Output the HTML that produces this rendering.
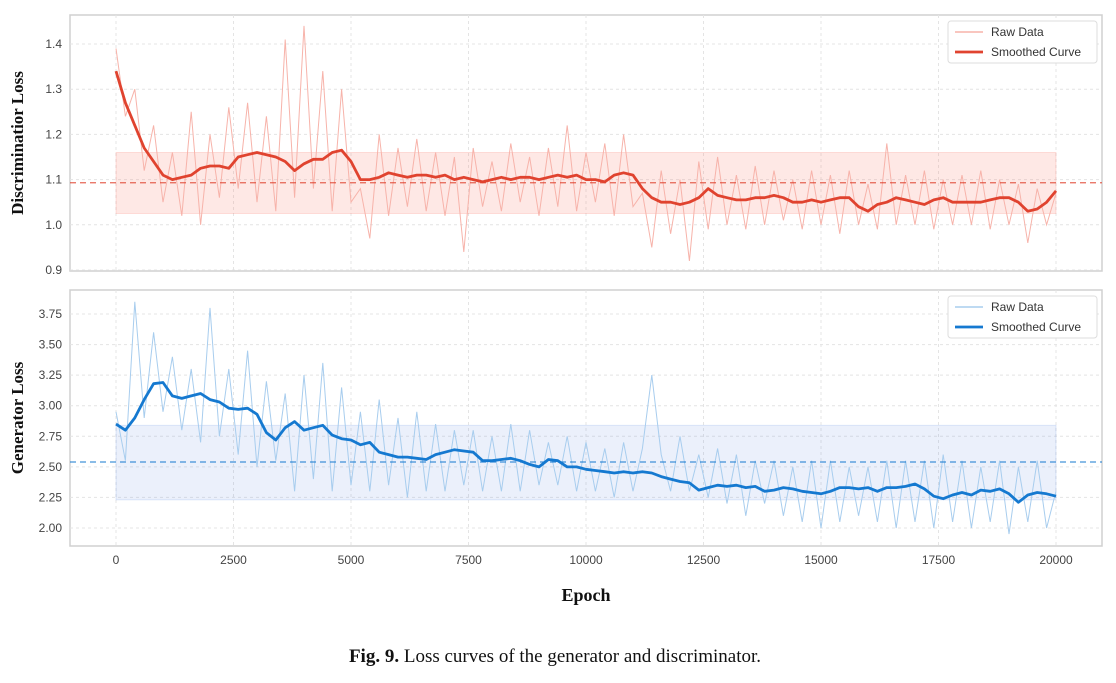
<!DOCTYPE html>
<html><head><meta charset="utf-8">
<style>
body{margin:0;background:#fff;width:1116px;height:678px;overflow:hidden;font-family:"Liberation Sans",sans-serif}
svg text{font-family:"Liberation Sans",sans-serif}
</style></head>
<body>
<svg id="chart" width="1116" height="678" xmlns="http://www.w3.org/2000/svg"></svg>
<script>
const epochMax = 20000;
const xTicks = [0,2500,5000,7500,10000,12500,15000,17500,20000];
const dTicks = [0.9,1.0,1.1,1.2,1.3,1.4];
const gTicks = [2.00,2.25,2.50,2.75,3.00,3.25,3.50,3.75];
const dSmooth = [1.34,1.27,1.22,1.17,1.14,1.11,1.10,1.105,1.11,1.125,1.13,1.13,1.125,1.15,1.155,1.16,1.155,1.15,1.14,1.12,1.135,1.145,1.145,1.16,1.165,1.14,1.10,1.10,1.105,1.115,1.11,1.105,1.11,1.11,1.105,1.11,1.10,1.105,1.10,1.095,1.10,1.105,1.10,1.105,1.105,1.10,1.105,1.11,1.105,1.11,1.10,1.10,1.095,1.11,1.115,1.11,1.08,1.06,1.05,1.05,1.045,1.05,1.06,1.08,1.065,1.06,1.055,1.055,1.06,1.06,1.065,1.06,1.05,1.05,1.055,1.05,1.055,1.06,1.06,1.04,1.03,1.045,1.05,1.06,1.055,1.05,1.045,1.055,1.06,1.05,1.05,1.05,1.05,1.055,1.06,1.06,1.05,1.03,1.035,1.05,1.075];
const dRaw = [1.39,1.24,1.30,1.12,1.22,1.05,1.16,1.02,1.25,1.00,1.20,1.06,1.26,1.08,1.27,1.05,1.24,1.03,1.41,1.06,1.44,1.08,1.34,1.03,1.30,1.05,1.08,0.97,1.20,1.02,1.17,1.04,1.19,1.03,1.16,1.02,1.15,0.94,1.17,1.04,1.14,1.03,1.18,1.05,1.15,1.02,1.17,1.04,1.22,1.03,1.16,1.05,1.18,1.02,1.20,1.04,1.07,0.95,1.12,0.98,1.10,0.92,1.14,0.99,1.15,1.00,1.11,0.99,1.13,1.00,1.12,1.01,1.10,0.99,1.12,1.00,1.11,0.98,1.12,1.00,1.09,0.99,1.18,1.00,1.11,1.00,1.12,0.99,1.10,1.00,1.11,1.00,1.12,0.99,1.10,1.00,1.09,0.96,1.08,1.00,1.07];
const dBand = [1.025,1.16];
const dMean = 1.093;
const gSmooth = [2.85,2.80,2.90,3.05,3.18,3.19,3.08,3.06,3.08,3.10,3.05,3.03,2.98,2.97,2.98,2.93,2.78,2.72,2.82,2.87,2.80,2.82,2.84,2.76,2.73,2.72,2.68,2.70,2.62,2.60,2.58,2.58,2.57,2.56,2.60,2.62,2.64,2.63,2.62,2.55,2.55,2.56,2.57,2.55,2.52,2.50,2.56,2.55,2.50,2.50,2.48,2.47,2.46,2.45,2.46,2.45,2.46,2.45,2.42,2.40,2.38,2.37,2.31,2.33,2.35,2.34,2.35,2.33,2.34,2.30,2.31,2.33,2.32,2.30,2.29,2.28,2.30,2.33,2.33,2.32,2.33,2.30,2.33,2.33,2.34,2.36,2.32,2.26,2.24,2.27,2.29,2.27,2.31,2.30,2.32,2.28,2.21,2.27,2.29,2.28,2.26];
const gRaw = [2.95,2.55,3.85,2.90,3.60,2.95,3.40,2.80,3.30,2.70,3.80,2.75,3.30,2.60,3.45,2.50,3.20,2.55,3.10,2.30,3.25,2.40,3.35,2.30,3.15,2.35,2.95,2.30,3.05,2.35,2.90,2.25,2.95,2.30,2.85,2.30,2.80,2.35,2.80,2.30,2.75,2.30,2.85,2.30,2.80,2.35,2.70,2.35,2.75,2.30,2.70,2.30,2.65,2.25,2.70,2.30,2.65,3.25,2.60,2.30,2.75,2.30,2.60,2.25,2.65,2.20,2.60,2.10,2.55,2.20,2.55,2.10,2.50,2.05,2.55,2.00,2.55,2.05,2.50,2.10,2.50,2.05,2.55,2.00,2.55,2.05,2.55,2.00,2.60,2.05,2.55,2.00,2.50,2.05,2.55,1.95,2.50,2.05,2.55,2.00,2.30];
const gBand = [2.23,2.84];
const gMean = 2.54;

const NS="http://www.w3.org/2000/svg";
const svg=document.getElementById('chart');
function mk(tag,attrs,parent){const e=document.createElementNS(NS,tag);for(const k in attrs)e.setAttribute(k,attrs[k]);(parent||svg).appendChild(e);return e;}
const xS=v=>116+v/epochMax*940;
function panel(cfg){
  const yS=v=>cfg.y0px+(v-cfg.v0)/(cfg.v1-cfg.v0)*(cfg.y1px-cfg.y0px);
  const g=mk('g',{});
  
  
  const fr=mk('rect',{x:70,y:cfg.top,width:1032,height:cfg.bot-cfg.top,fill:'#fff',stroke:'#d0d0d0','stroke-width':1.5},g);
  
  
  xTicks.forEach(t=>{const l=mk('line',{x1:xS(t),x2:xS(t),y1:cfg.top,y2:cfg.bot,stroke:'#e4e4e4','stroke-dasharray':'3,3'},g);
    
    });
  cfg.ticks.forEach(t=>{const y=yS(t);
    const l=mk('line',{x1:70,x2:1102,y1:y,y2:y,stroke:'#e4e4e4','stroke-dasharray':'3,3'},g);
    
    
    const tx=mk('text',{x:62,y:y+4,'text-anchor':'end','font-size':12,fill:'#444'},g);tx.textContent=cfg.fmt(t);
    
    });
  const band=mk('rect',{x:xS(0),width:xS(epochMax)-xS(0),y:yS(cfg.band[1]),height:yS(cfg.band[0])-yS(cfg.band[1]),fill:cfg.bandFill,stroke:cfg.bandStroke,'stroke-width':0.8},g);
  
  
  const n=cfg.raw.length;
  const rp=cfg.raw.map((v,i)=>xS(i*epochMax/(n-1)).toFixed(1)+','+yS(v).toFixed(1)).join(' ');
  const raw=mk('polyline',{points:rp,fill:'none',stroke:cfg.rawCol,'stroke-width':1},g);
  
  
  const mean=mk('line',{x1:70,x2:1102,y1:yS(cfg.mean),y2:yS(cfg.mean),stroke:cfg.col,'stroke-width':1.3,'stroke-dasharray':'6,4',opacity:0.8},g);
  
  
  const m=cfg.smooth.length;
  const sp=cfg.smooth.map((v,i)=>xS(i*epochMax/(m-1)).toFixed(1)+','+yS(v).toFixed(1)).join(' ');
  const sm=mk('polyline',{points:sp,fill:'none',stroke:cfg.col,'stroke-width':2.8,'stroke-linejoin':'round'},g);
  
  
  const lg=mk('g',{},g);
  
  
  mk('rect',{x:948,y:cfg.top+6,width:149,height:42,rx:3,fill:'#fff',stroke:'#ddd'},lg);
  mk('line',{x1:955,x2:983,y1:cfg.top+17,y2:cfg.top+17,stroke:cfg.rawCol,'stroke-width':1.5},lg);
  const t1=mk('text',{x:991,y:cfg.top+21,'font-size':12,fill:'#333'},lg);t1.textContent='Raw Data';
  
  
  mk('line',{x1:955,x2:983,y1:cfg.top+37,y2:cfg.top+37,stroke:cfg.col,'stroke-width':2.8},lg);
  const t2=mk('text',{x:991,y:cfg.top+41,'font-size':12,fill:'#333'},lg);t2.textContent='Smoothed Curve';
  
  
  const yt=mk('text',{transform:`translate(23,${(cfg.top+cfg.bot)/2}) rotate(-90)`,'text-anchor':'middle','font-size':17,'font-weight':'bold',fill:'#111',style:'font-family:"Liberation Serif",serif'},g);
  yt.textContent=cfg.title;
  
  
}
panel({name:'discriminator-panel',top:15,bot:271,v0:1.4,v1:0.9,y0px:44,y1px:270,ticks:dTicks,fmt:t=>t.toFixed(1),band:dBand,mean:dMean,raw:dRaw,smooth:dSmooth,col:'#e0432f',rawCol:'#f7b3aa',bandFill:'rgba(250,140,125,0.2)',bandStroke:'rgba(250,140,125,0.3)',title:'Discriminatior Loss'});
panel({name:'generator-panel',top:290,bot:546,v0:3.75,v1:2.0,y0px:314,y1px:528,ticks:gTicks,fmt:t=>t.toFixed(2),band:gBand,mean:gMean,raw:gRaw,smooth:gSmooth,col:'#1579d0',rawCol:'#a8cdee',bandFill:'rgba(110,150,230,0.14)',bandStroke:'rgba(110,150,230,0.25)',title:'Generator Loss'});
xTicks.forEach(t=>{const tx=mk('text',{x:xS(t),y:564,'text-anchor':'middle','font-size':12,fill:'#444'});tx.textContent=t;
  
  });
const xt=mk('text',{x:586,y:601,'text-anchor':'middle','font-size':18,'font-weight':'bold',fill:'#111',style:'font-family:"Liberation Serif",serif'});
xt.textContent='Epoch';


const cap=mk('text',{x:555,y:662,'text-anchor':'middle','font-size':19,fill:'#111',style:'font-family:"Liberation Serif",serif'});


const b=mk('tspan',{'font-weight':'bold'},cap);b.textContent='Fig. 9.';
const r=mk('tspan',{},cap);r.textContent=' Loss curves of the generator and discriminator.';
</script>
</body></html>
